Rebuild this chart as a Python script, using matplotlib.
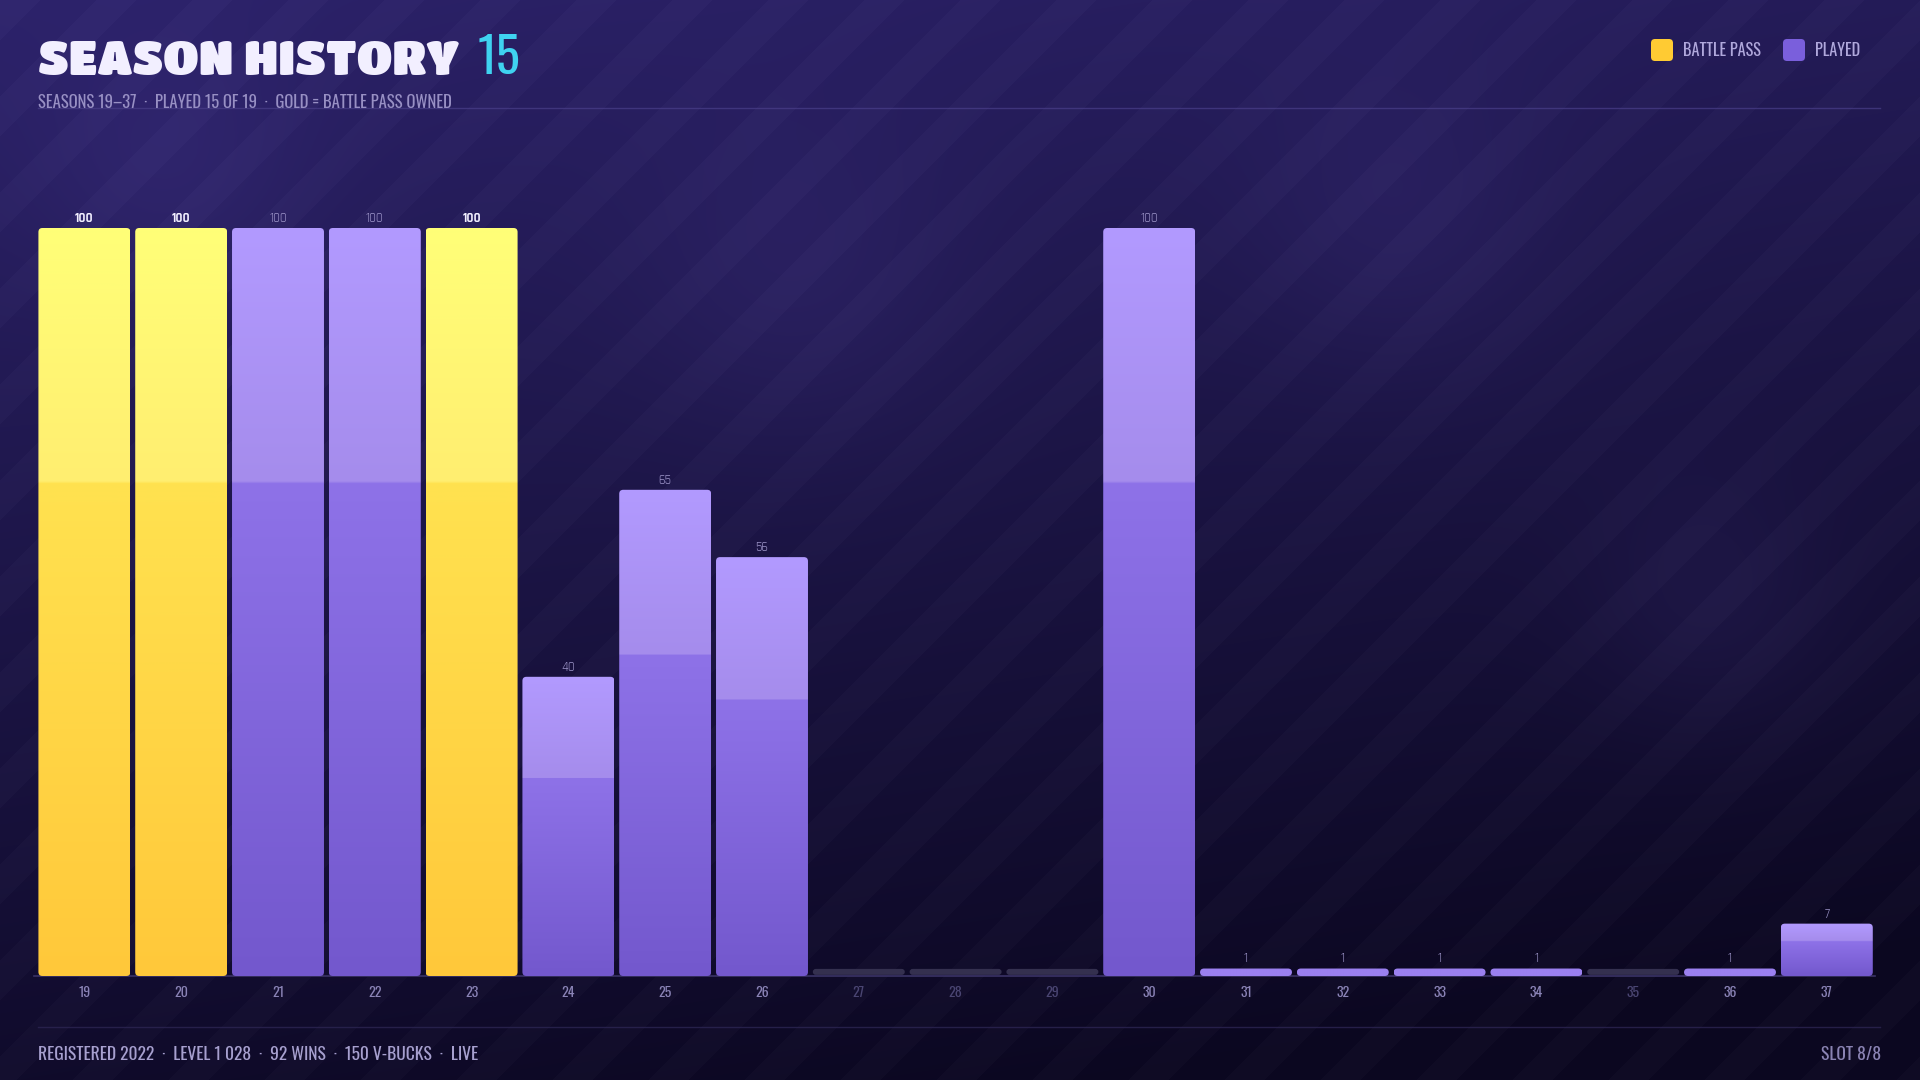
import numpy as np
import matplotlib.pyplot as plt
from matplotlib.patches import FancyBboxPatch
from matplotlib import font_manager

# ===== DATA =====
seasons = ["19", "20", "21", "22", "23", "24", "25", "26", "27", "28",
           "29", "30", "31", "32", "33", "34", "35", "36", "37"]
progress = [100, 100, 100, 100, 100, 40, 65, 56, 0, 0,
            0, 100, 1, 1, 1, 1, 0, 1, 7]
battle_pass = [True, True, False, False, True, False, False, False, False, False,
               False, False, False, False, False, False, False, False, False]

title = "SEASON HISTORY"
title_count = "15"
subtitle = "SEASONS 19\u201337  \u00b7  PLAYED 15 OF 19  \u00b7  GOLD = BATTLE PASS OWNED"
footer_left = "REGISTERED 2022  \u00b7  LEVEL 1 028  \u00b7  92 WINS  \u00b7  150 V-BUCKS  \u00b7  LIVE"
footer_right = "SLOT 8/8"

# fonts
names = {f.name for f in font_manager.fontManager.ttflist}


def pick(*cands):
    return [c for c in cands if c in names][:1] + ["DejaVu Sans"]


NARROW = pick("Oswald", "Barlow Condensed", "Roboto Condensed", "Bebas Neue")
NUMS = pick("Rajdhani", "Oswald", "Barlow Condensed")
HEAVY = pick("Titan One", "Dela Gothic One", "Lilita One", "Luckiest Guy", "Lato")

W, H = 1920, 1080
fig = plt.figure(figsize=(W / 100, H / 100), dpi=100)

# ===== BACKGROUND =====
bg = fig.add_axes([0, 0, 1, 1])
bg.set_axis_off()
yy, xx = np.mgrid[0:H, 0:W]
t = np.clip(yy / H * 0.85 + xx / W * 0.25, 0, 1)
top = np.array([0x2c, 0x22, 0x6a]) / 255
bot = np.array([0x0b, 0x07, 0x20]) / 255
img = top[None, None, :] * (1 - t[..., None]) + bot[None, None, :] * t[..., None]
stripe = (((xx + yy) % 96) < 40).astype(float)
img = img + stripe[..., None] * 0.016
for cx, cy, r in [(800, 290, 120), (1400, 230, 110), (1710, 610, 90), (170, 180, 100)]:
    g = np.exp(-((xx - cx) ** 2 + (yy - cy) ** 2) / (2 * r ** 2))
    img = img + g[..., None] * np.array([0.03, 0.025, 0.05])
bg.imshow(np.clip(img, 0, 1), extent=(0, W, H, 0), aspect="auto")
bg.set_xlim(0, W)
bg.set_ylim(H, 0)

# header / footer lines
bg.plot([38, 1880], [108, 108], color="#4a3f8a", lw=1, alpha=0.7)
bg.plot([38, 1880], [1027, 1027], color="#2c2552", lw=1, alpha=0.8)

# ===== TITLE =====
tt = bg.text(38, 60, title, color="#f2efff", fontsize=34, family=HEAVY,
             fontweight="black", va="center", ha="left")
fig.canvas.draw()
bb = tt.get_window_extent()
bg.text(bb.x1 + 18, 58, title_count, color="#3fd3f0", fontsize=36, family=NARROW,
        fontweight="light", va="center", ha="left")
bg.text(38, 103, subtitle, color="#9890c4", fontsize=12, family=NARROW,
        fontweight="light", va="center", ha="left")

# legend
for x0, col, lab in [(1651, "#ffcb33", "BATTLE PASS"), (1783, "#7a5fdc", "PLAYED")]:
    bg.add_patch(FancyBboxPatch((x0, 39), 22, 22, boxstyle="round,pad=0,rounding_size=4",
                                fc=col, ec="none"))
    bg.text(x0 + 32, 50, lab, color="#b0a8dc", fontsize=11.7, family=NARROW,
            fontweight="light", va="center", ha="left")

# footer
bg.text(38, 1055, footer_left, color="#a7a0cf", fontsize=12.6, family=NARROW,
        fontweight="light", va="center", ha="left")
bg.text(1881, 1055, footer_right, color="#8a83b3", fontsize=12.6, family=NARROW,
        fontweight="light", va="center", ha="right")

# ===== BARS =====
slot = 96.8
ax_left = 36
ax = fig.add_axes([ax_left / W, (H - 976) / H, slot * 19 / W, 748 / H])
ax.set_axis_off()
ax.set_xlim(-0.5, 18.5)
ax.set_ylim(0, 100)
ax.patch.set_alpha(0)

ax.axhline(0, color="#3a3366", lw=1.2, xmin=-0.001, xmax=1.0, clip_on=False)

bw = 0.95
asp = (100 / 748) / (1 / slot)


def grad(c_top, c_mid, c_low, c_bot, n=300):
    cols = np.zeros((n, 1, 3))
    for i in range(n):
        f = i / (n - 1)  # 0 = top
        if f < 0.34:
            k = f / 0.34
            c = np.array(c_top) * (1 - k) + np.array(c_mid) * k
        else:
            k = (f - 0.34) / 0.66
            c = np.array(c_low) * (1 - k) + np.array(c_bot) * k
        cols[i, 0] = c
    return cols / 255


gold_g = grad((255, 255, 120), (255, 238, 112), (255, 226, 80), (255, 200, 58))
purp_g = grad((178, 154, 255), (165, 140, 236), (142, 114, 232), (115, 88, 205))

for i, (s, v, bp) in enumerate(zip(seasons, progress, battle_pass)):
    if v == 0:
        p = FancyBboxPatch((i - bw / 2, 0.15), bw, 0.8,
                           boxstyle=f"round,pad=0,rounding_size={3 / slot}",
                           mutation_aspect=asp, fc="#34304f", ec="none")
        ax.add_patch(p)
        ax.text(i, -2.2, s, color="#4a4572", fontsize=10, family=NARROW,
                fontweight="light", ha="center", va="center", clip_on=False)
        continue
    p = FancyBboxPatch((i - bw / 2, 0), bw, v,
                       boxstyle=f"round,pad=0,rounding_size={4 / slot}",
                       mutation_aspect=asp, fc="none", ec="none")
    ax.add_patch(p)
    g = gold_g if bp else purp_g
    if v < 3:
        g = np.array([[[155, 128, 240]]]) / 255
    im = ax.imshow(g, extent=(i - bw / 2, i + bw / 2, 0, v), aspect="auto",
                   interpolation="bilinear", zorder=2)
    im.set_clip_path(p)
    ax.text(i, v + 1.35, str(v), color="#f2efff" if bp else "#9d95c9",
            fontsize=9.5, family=NUMS, fontweight="bold" if bp else "normal",
            ha="center", va="center", clip_on=False)
    ax.text(i, -2.2, s, color="#8a83b6", fontsize=10, family=NARROW,
            fontweight="light", ha="center", va="center", clip_on=False)

ax.set_xlim(-0.5, 18.5)
ax.set_ylim(0, 100)

plt.savefig("out.png", dpi=100)
plt.close()
